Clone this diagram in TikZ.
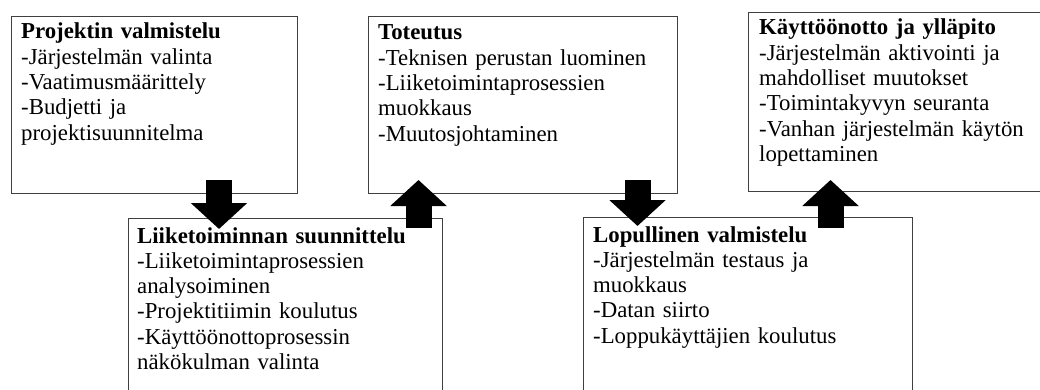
\documentclass[tikz,border=0pt]{standalone}
\usepackage{fontspec}
\setmainfont{Liberation Serif}
\usetikzlibrary{arrows.meta}
\tikzset{
  box/.style={draw=black!75, line width=1pt, rectangle, anchor=north west, inner sep=0pt},
  txt/.style={anchor=base west, inner sep=0pt, text width=330pt, align=left,
    font=\fontsize{22.8}{25.3}\selectfont},
  blockarrow/.style={line width=26pt, black, -{Triangle[width=55pt,length=26pt]}}
}
\begin{document}
\begin{tikzpicture}[x=1pt,y=-1pt]
\useasboundingbox (0,0) rectangle (1040,390);
\clip (0,0) rectangle (1040,390);
% boxes
\node[box, minimum width=286pt, minimum height=177pt] (b1) at (11,16) {};
\node[box, minimum width=314pt, minimum height=190pt] (b2) at (128,218) {};
\node[box, minimum width=309pt, minimum height=177pt] (b3) at (368,16) {};
\node[box, minimum width=329pt, minimum height=190pt] (b4) at (583,217) {};
\node[box, minimum width=310pt, minimum height=179pt] (b5) at (748,12) {};
% texts
\node[txt] (t1) at (21,39) {\textbf{Projektin valmistelu}\\-Järjestelmän valinta\\-Vaatimusmäärittely\\-Budjetti ja\\projektisuunnitelma};
\node[txt] (t2) at (137,243) {\textbf{Liiketoiminnan suunnittelu}\\-Liiketoimintaprosessien\\analysoiminen\\-Projektitiimin koulutus\\-Käyttöönottoprosessin\\näkökulman valinta};
\node[txt] (t3) at (378,40) {\textbf{Toteutus}\\-Teknisen perustan luominen\\-Liiketoimintaprosessien\\muokkaus\\-Muutosjohtaminen};
\node[txt] (t4) at (593,242) {\textbf{Lopullinen valmistelu}\\-Järjestelmän testaus ja\\muokkaus\\-Datan siirto\\-Loppukäyttäjien koulutus};
\node[txt] (t5) at (759,35) {\textbf{Käyttöönotto ja ylläpito}\\-Järjestelmän aktivointi ja\\mahdolliset muutokset\\-Toimintakyvyn seuranta\\-Vanhan järjestelmän käytön\\lopettaminen};
% arrows
\coordinate (a1s) at (219,180); \coordinate (a1e) at (219,229);
\coordinate (a2s) at (418.5,228); \coordinate (a2e) at (418.5,180);
\coordinate (a3s) at (637.5,180); \coordinate (a3e) at (637.5,226);
\coordinate (a4s) at (830.5,228); \coordinate (a4e) at (830.5,180);
\draw[blockarrow] (a1s) -- (a1e);
\draw[blockarrow] (a2s) -- (a2e);
\draw[blockarrow] (a3s) -- (a3e);
\draw[blockarrow] (a4s) -- (a4e);
\end{tikzpicture}
\end{document}
